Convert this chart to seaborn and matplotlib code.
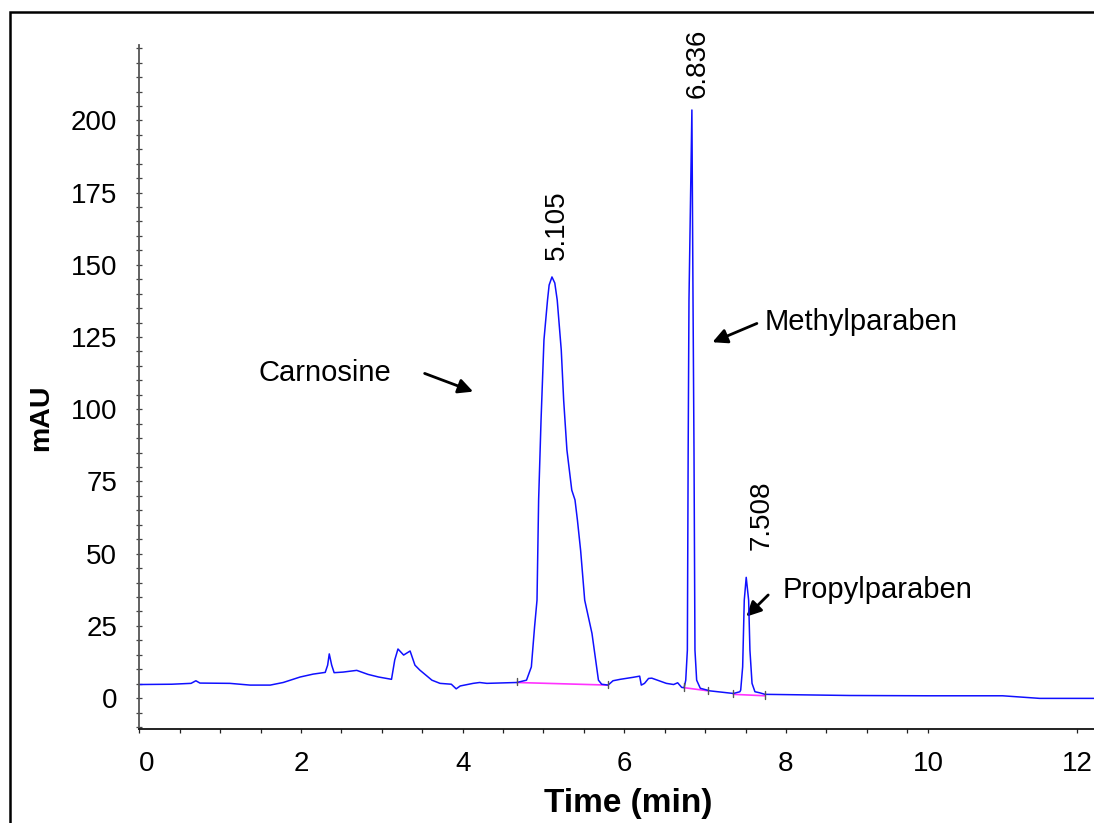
import numpy as np
import pandas as pd
import matplotlib
matplotlib.use("Agg")
import matplotlib.pyplot as plt
from matplotlib.patches import Rectangle, FancyArrowPatch
from matplotlib.ticker import FixedLocator
import seaborn as sns

# ---- chromatogram trace (time in min, absorbance in mAU) ----
time_min = [
    0.00, 0.40, 0.64, 0.70, 0.75, 1.12, 1.37, 1.62, 1.78, 1.99, 2.15, 2.30,
    2.33, 2.35, 2.38, 2.41, 2.52, 2.69, 2.83, 2.96, 3.12, 3.16, 3.20, 3.27,
    3.35, 3.41, 3.47, 3.62, 3.72, 3.86, 3.92, 3.97, 4.13, 4.21, 4.30, 4.67,
    4.79, 4.85, 4.89, 4.92, 4.94, 4.97, 5.006, 5.05, 5.07, 5.105, 5.14, 5.17,
    5.22, 5.25, 5.29, 5.35, 5.39, 5.42, 5.46, 5.51, 5.60, 5.68, 5.72, 5.80,
    5.86, 5.95, 6.11, 6.19, 6.21, 6.25, 6.30, 6.34, 6.44, 6.52, 6.61, 6.66,
    6.71, 6.74, 6.76, 6.78, 6.79, 6.80, 6.836, 6.85, 6.862, 6.874, 6.895, 6.94,
    7.06, 7.35, 7.43, 7.44, 7.464, 7.484, 7.508, 7.538, 7.554, 7.58, 7.616, 7.68,
    7.74, 8.79, 10.0, 11.0, 11.5, 12.23,
]
signal_mau = [
    4.7, 4.8, 5.1, 6.0, 5.2, 5.1, 4.5, 4.5, 5.4, 7.3, 8.3, 8.9,
    11.4, 15.3, 11.4, 8.8, 9.0, 9.6, 8.2, 7.3, 6.5, 13.2, 17.0, 14.9,
    16.3, 11.4, 9.7, 6.2, 5.1, 4.8, 3.2, 4.2, 5.1, 5.4, 5.1, 5.4,
    6.2, 10.8, 24.7, 33.9, 68.6, 96.3, 124.0, 137.8, 143.0, 145.8, 143.7, 137.8,
    120.5, 103.0, 85.9, 72.0, 68.6, 61.6, 51.0, 33.9, 22.4, 6.2, 4.8, 4.5,
    6.0, 6.5, 7.2, 7.6, 4.5, 5.1, 6.8, 6.9, 5.9, 5.1, 4.7, 5.3,
    3.7, 3.6, 6.2, 16.6, 86.0, 137.8, 203.6, 137.8, 86.0, 16.6, 6.2, 3.4,
    2.5, 1.6, 2.2, 2.8, 10.8, 33.9, 41.8, 33.9, 16.6, 5.1, 2.2, 1.8,
    1.3, 0.9, 0.8, 0.8, -0.1, -0.1,
]

# ---- integration baselines (start/end time, start/end mAU) ----
base_t0 = [4.67, 6.74, 7.35]
base_t1 = [5.80, 7.04, 7.74]
base_v0 = [5.4, 3.6, 1.3]
base_v1 = [4.5, 2.5, 0.8]

# ---- labelled peaks ----
peak_rt = [5.105, 6.836, 7.508]
peak_height = [145.8, 203.6, 41.8]
peak_text = ["5.105", "6.836", "7.508"]

# ---- compound annotations ----
compounds = ["Carnosine", "Methylparaben", "Propylparaben"]
compound_text_xy = [(1.47, 109.8), (7.74, 127.4), (7.96, 34.6)]
compound_arrow_tail = [(3.53, 112.4), (7.64, 129.7), (7.78, 35.7)]
compound_arrow_tip = [(4.13, 106.1), (7.09, 123.2), (7.51, 28.2)]

x_major = [0, 2, 4, 6, 8, 10, 12]
x_minor = list(np.arange(0.5, 10.0, 0.5))
y_major = list(range(0, 201, 25))
y_minor = list(range(-10, 226, 5))

# the time axis of the instrument printout is compressed past 9.5 min
_raw = [-1.0, 0.0, 9.5, 10.0, 12.0, 14.0]
_disp = [-1.0, 0.0, 9.5, 9.76, 11.599, 13.438]


def _fwd(x):
    return np.interp(x, _raw, _disp)


def _inv(x):
    return np.interp(x, _disp, _raw)


sns.set_theme(style="ticks")
plt.rcParams["font.family"] = ["Liberation Sans", "DejaVu Sans"]
plt.rcParams["text.color"] = "black"
plt.rcParams["axes.labelcolor"] = "black"
plt.rcParams["xtick.labelcolor"] = "black"
plt.rcParams["ytick.labelcolor"] = "black"

W, H = 1094, 823
fig = plt.figure(figsize=(W / 100, H / 100), dpi=100)
ax = fig.add_axes([139.3 / W, 1 - 729 / H, (W - 139.3) / W, (729 - 45) / H])

df = pd.DataFrame({"Time (min)": time_min, "mAU": signal_mau})
sns.lineplot(data=df, x="Time (min)", y="mAU", ax=ax, color="#1010ff",
             lw=1.1, estimator=None, sort=False)

for t0, t1, v0, v1 in zip(base_t0, base_t1, base_v0, base_v1):
    ax.plot([t0, t1], [v0, v1], color="#ff33ff", lw=1.2, zorder=1)
    ax.plot([t0, t0], [v0 - 1.0, v0 + 1.5], color="#555555", lw=1.0)
    ax.plot([t1, t1], [v1 - 1.0, v1 + 1.5], color="#555555", lw=1.0)

ax.set_xscale("function", functions=(_fwd, _inv))
ax.set_xlim(0, 12.23)
ax.set_ylim(-10.7, 226.1)

ax.xaxis.set_major_locator(FixedLocator(x_major))
ax.xaxis.set_minor_locator(FixedLocator(x_minor))
ax.yaxis.set_major_locator(FixedLocator(y_major))
ax.yaxis.set_minor_locator(FixedLocator(y_minor))
ax.set_xticklabels([str(v) for v in x_major])
ax.set_yticklabels([str(v) for v in y_major])

ax.tick_params(axis="x", which="both", direction="out", length=3, width=0.9,
               color="#222222", labelcolor="black", labelsize=20, pad=13)
ax.tick_params(axis="y", which="both", direction="inout", length=4, width=0.9,
               color="#444444", labelcolor="black", labelsize=20, pad=14)
ax.get_xticklabels()[0].set_ha("left")

for side in ("top", "right"):
    ax.spines[side].set_visible(False)
ax.spines["left"].set_color("#555555")
ax.spines["left"].set_linewidth(1.3)
ax.spines["bottom"].set_color("#111111")
ax.spines["bottom"].set_linewidth(1.3)

ax.set_xlabel("Time (min)", fontsize=24, fontweight="bold", color="black")
ax.set_ylabel("mAU", fontsize=20.5, fontweight="bold", color="black")
ax.xaxis.set_label_coords(0.512, -0.086)
ax.yaxis.set_label_coords(-0.089, 0.455)

offsets = [(5, 17), (6, 12), (15, 27)]
for rt, h, txt, off in zip(peak_rt, peak_height, peak_text, offsets):
    ax.annotate(txt, xy=(rt, h), xytext=off, textcoords="offset pixels",
                rotation=90, ha="center", va="bottom", fontsize=20,
                color="black", annotation_clip=False)

for name, txy, tail, tip in zip(compounds, compound_text_xy,
                                compound_arrow_tail, compound_arrow_tip):
    ax.text(txy[0], txy[1], name, fontsize=21, ha="left", va="baseline",
            color="black")
    ax.add_patch(FancyArrowPatch(tail, tip, arrowstyle="-|>", mutation_scale=22,
                                 color="black", lw=2.0, shrinkA=0, shrinkB=0))

# outer frame of the printout
fig.patches.append(Rectangle((10 / W, -0.5), 2.0, 1.5 - 12 / H,
                             transform=fig.transFigure, fill=False,
                             edgecolor="black", lw=1.8))

fig.savefig("out.png", dpi=100)
